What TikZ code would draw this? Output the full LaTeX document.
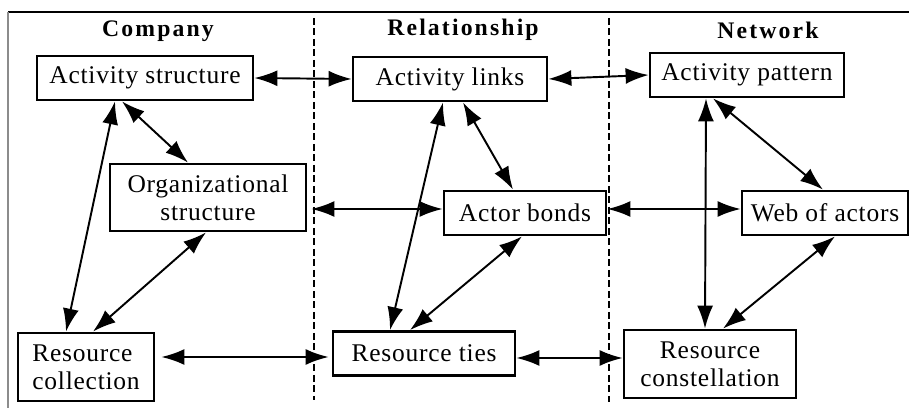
\documentclass[tikz,border=0pt]{standalone}
\usepackage{fontspec}
\setmainfont{Liberation Serif}
\usetikzlibrary{arrows.meta}
\begin{document}
\begin{tikzpicture}[x=0.02cm,y=-0.02cm]
	\tikzstyle{ubox}=[rectangle,draw=black,line width=1.6pt,inner sep=0pt,minimum height=0.88cm,font=\fontsize{14.5}{16}\selectfont\addfontfeature{LetterSpace=3}]
	\tikzstyle{head}=[font=\fontsize{13.5}{15}\selectfont\bfseries\addfontfeature{LetterSpace=9}]
	\tikzstyle{link}=[line width=1.1pt,{Latex[length=0.46cm,width=0.32cm]}-{Latex[length=0.46cm,width=0.32cm]}]
	\tikzstyle{split}=[line width=1.2pt,dash pattern=on 0.14cm off 0.07cm]
	\useasboundingbox (0,0) rectangle (909,408);
	% frame
	\draw[line width=1.2pt] (8,12) -- (909,12);
	\draw[black!45,line width=0.8pt] (8,12) -- (8,408);
	\draw[split] (314,18) -- (314,400);
	\draw[split] (609,18) -- (609,402);
	% column titles
	\node[head] (C-head) at (158,31) {Company};
	\node[head] (R-head) at (463,30) {Relationship};
	\node[head] (N-head) at (768,30) {Network};
	% company
	\node[ubox,minimum width=4.32cm] (C-act) at (145,78) {Activity structure};
	\node[ubox,minimum width=3.92cm,minimum height=1.34cm,align=center] (C-org) at (208,197.5) {Organizational\\structure};
	\node[ubox,minimum width=2.72cm,minimum height=1.36cm,align=left] (C-res) at (86,367) {Resource\\collection};
	% relationship
	\node[ubox,minimum width=3.88cm] (R-act) at (450,79) {Activity links};
	\node[ubox,minimum width=3.24cm] (R-bond) at (525,213) {Actor bonds};
	\node[ubox,minimum width=3.64cm] (R-res) at (424,353.5) {Resource ties};
	% network
	\node[ubox,minimum width=3.88cm] (N-act) at (747,75) {Activity pattern};
	\node[ubox,minimum width=3.32cm] (N-web) at (825,213) {Web of actors};
	\node[ubox,minimum width=3.44cm,minimum height=1.36cm,align=center] (N-res) at (710,364) {Resource\\constellation};
	% across the columns
	\draw[link] (C-act.east) -- (R-act.west);
	\draw[link] (R-act.east) -- (N-act.west);
	\draw[link] ([xshift=0.08cm,yshift=0.08cm]R-bond.west -| C-org.east) -- ([yshift=0.08cm]R-bond.west);
	\draw[link] ([yshift=0.08cm]R-bond.east) -- ([yshift=0.08cm]N-web.west);
	\draw[link] ([xshift=0.12cm,yshift=-0.07cm]R-res.west -| C-res.east) -- ([xshift=-0.06cm,yshift=-0.07cm]R-res.west);
	\draw[link] ([yshift=-0.09cm]R-res.east) -- ([yshift=-0.09cm]R-res.east -| N-res.west);
	% within the columns
	\draw[link] ([xshift=-0.6cm]C-act.south) -- ([xshift=-0.4cm]C-res.north);
	\draw[link] ([xshift=-0.46cm]C-act.south) -- ([xshift=-0.4cm]C-org.north);
	\draw[link] ([xshift=-0.04cm]C-org.south) -- ([xshift=0.14cm]C-res.north);
	\draw[link] ([xshift=-0.14cm]R-act.south) -- ([xshift=-0.68cm]R-res.north);
	\draw[link] ([xshift=0.26cm]R-act.south) -- ([xshift=-0.24cm]R-bond.north);
	\draw[link] ([xshift=-0.06cm]R-bond.south) -- ([xshift=-0.28cm]R-res.north);
	\draw[link] ([xshift=-0.82cm]N-act.south) -- ([xshift=-0.1cm]N-res.north);
	\draw[link] ([xshift=-0.68cm]N-act.south) -- ([xshift=-0.04cm]N-web.north);
	\draw[link] ([xshift=0.2cm]N-web.south) -- ([xshift=0.26cm]N-res.north);
\end{tikzpicture}
\end{document}
